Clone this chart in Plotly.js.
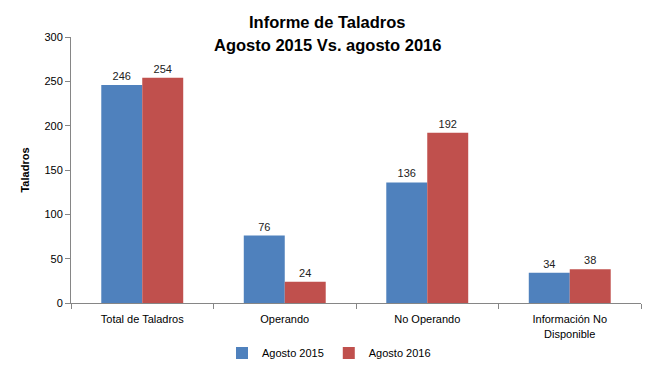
<!DOCTYPE html>
<html><head><meta charset="utf-8">
<script src="https://cdn.plot.ly/plotly-3.0.1.min.js"></script>
<style>body{margin:0;background:#fff}#c{width:654px;height:374px}</style>
</head><body><div id="c"></div>
<script>
const categories = ["Total de Taladros", "Operando", "No Operando", "Información No<br>Disponible"];
const agosto2015 = [246, 76, 136, 34];
const agosto2016 = [254, 24, 192, 38];
const seriesNames = ["Agosto 2015", "Agosto 2016"];
const titleLines = ["Informe de Taladros", "Agosto 2015 Vs. agosto 2016"];
const yTicks = [0, 50, 100, 150, 200, 250, 300];

const font = "Liberation Sans, Arial, sans-serif";
const mk = (name, vals, color) => ({
  type: "bar", name: name, x: categories, y: vals,
  marker: {color: color},
  text: vals.map(String), textposition: "outside", cliponaxis: false,
  textfont: {family: font, size: 11, color: "#222"}
});
const data = [mk(seriesNames[0], agosto2015, "#4F81BD"), mk(seriesNames[1], agosto2016, "#C0504D")];
const layout = {
  width: 654, height: 374,
  margin: {l: 71, r: 13, t: 37, b: 71},
  paper_bgcolor: "#fff", plot_bgcolor: "#fff",
  font: {family: font, size: 11, color: "#222"},
  annotations: titleLines.map((t, i) => ({
    text: "<b>" + t + "</b>", xref: "paper", yref: "paper", x: (327 - 71) / 570,
    y: 1 + (15 - 23 * i) / 266, xanchor: "center", yanchor: "middle", showarrow: false,
    font: {family: font, size: 16.5, color: "#000"}
  })),
  barmode: "group", bargap: 0.425, bargroupgap: 0,
  xaxis: {type: "category", tickson: "boundaries", ticks: "outside", ticklen: 5, tickcolor: "#868686",
          showline: true, linecolor: "#868686", linewidth: 1, showgrid: false, automargin: false,
          ticklabelstandoff: 6,
          tickfont: {family: font, size: 11, color: "#000", lineposition: "none"}},
  yaxis: {range: [0, 300], tickvals: yTicks, ticks: "outside", ticklen: 5, tickcolor: "#868686",
          showline: true, linecolor: "#868686", linewidth: 1, showgrid: false, zeroline: false, automargin: false,
          tickfont: {family: font, size: 11, color: "#000"},
          title: {text: "<b>Taladros</b>", font: {family: font, size: 11, color: "#000"}, standoff: 12}},
  legend: {orientation: "h", xref: "container", yref: "container", x: 329 / 654, xanchor: "center",
           y: (374 - 353) / 374, yanchor: "middle",
           font: {family: font, size: 11, color: "#000"}},
  showlegend: true
};
Plotly.newPlot("c", data, layout, {displayModeBar: false, staticPlot: true});
</script></body></html>
